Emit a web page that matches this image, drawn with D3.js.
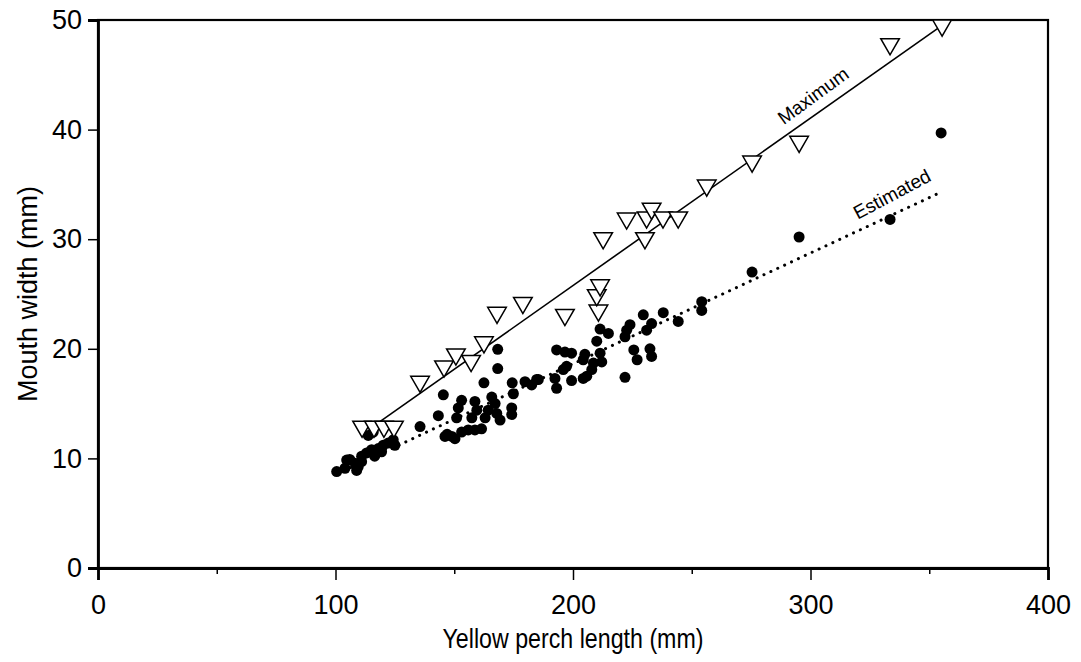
<!DOCTYPE html>
<html><head><meta charset="utf-8">
<script src="https://cdn.jsdelivr.net/npm/d3@7"></script>
<style>body{margin:0;background:#fff;} text{font-family:"Liberation Sans",Arial,sans-serif;fill:#000;}</style>
</head><body><svg id="c" width="1081" height="662"></svg>
<script>
// Data (mm)
const estLength = [100.5,104,104.7,108.2,108.9,109.5,111,111,113.1,115.2,113.8,115.9,118,119.4,120.1,122.2,124.3,125,116.5,106,
  135.6,
  143.3,145.4,146.1,149,150.3,151,151.7,153.1,153.1,155.9,157.4,158.7,158.7,159.5,161.5,162.5,163,164.3,165.8,167.2,167.9,168.3,168.3,169.3,174.2,174.2,174.4,174.9,179.8,182.6,185.4,147,
  184.7,192.4,193.1,193.1,195.9,196.6,197.3,199.4,199.4,204.3,204.3,205,205.8,207.9,208.6,210,211.4,211.4,212.1,214.9,221.9,221.9,222.6,224,225.6,227,229.6,231,232.4,233.1,233.1,238,244.3,254.2,254.2,
  275.4,295.2,333.5,355];
const estWidth = [8.8,9.1,9.85,9.55,8.9,9.2,10.2,9.7,10.5,10.8,12.1,12.4,10.9,10.6,11.2,11.4,11.7,11.2,10.2,9.9,
  12.9,
  13.9,15.8,12.0,12.0,11.8,13.7,14.6,15.3,12.4,12.6,13.7,15.2,12.6,14.4,12.7,16.9,13.7,14.4,15.6,15.0,14.1,19.95,18.2,13.5,14.6,14.0,16.9,15.9,17.0,16.7,17.2,12.2,
  17.2,17.3,16.4,19.9,18.1,19.7,18.4,19.6,17.1,19.0,17.3,19.5,17.5,18.1,18.7,20.7,19.6,21.8,18.8,21.4,21.1,17.4,21.7,22.2,19.9,19.0,23.1,21.7,20.0,19.3,22.3,23.3,22.5,24.3,23.5,
  27.0,30.2,31.8,39.7];
const maxLength = [111.2,116.2,120.4,124.6,135.6,145.7,150.7,157.1,162.5,168,178.9,196.6,210.7,210,211.4,212.7,230.3,222.6,231,233.1,237.9,244.3,256.3,275.4,295.2,333.5,355.4];
const maxWidth  = [12.9,12.9,12.9,12.9,17.0,18.4,19.5,18.9,20.6,23.3,24.2,23.1,23.5,24.9,25.8,30.1,30.1,31.9,32.0,32.8,32.0,32.0,34.9,37.1,38.9,47.8,49.5];
// regression line end points
const maxLineX = [118.7, 356.6], maxLineY = [13.35, 49.7];
const estLineX = [100.6, 354.0], estLineY = [8.58, 34.2];
const xTicks = [0,100,200,300,400], xMinor = [50,150,250,350];
const yTicks = [0,10,20,30,40,50];

const svg = d3.select("#c");
const m = {l:98, t:20, r:1048, b:568};
const x = d3.scaleLinear().domain([0,400]).range([m.l, m.r]);
const y = d3.scaleLinear().domain([0,50]).range([m.b, m.t]);
const FONT = "Liberation Sans, Arial, sans-serif";

// frame
svg.append("rect").attr("x",m.l).attr("y",m.t).attr("width",m.r-m.l).attr("height",m.b-m.t)
  .attr("fill","none").attr("stroke","#000").attr("stroke-width",2.2);

// axes
const xa = svg.append("g").attr("transform",`translate(0,${m.b})`)
  .call(d3.axisBottom(x).tickValues(xTicks).tickSize(12).tickPadding(15).tickFormat(d3.format("d")));
xa.select(".domain").attr("stroke-width",2.8);
xa.selectAll("text").attr("font-size",27).attr("font-family",FONT);
xa.selectAll("line").attr("stroke-width",1.5);
const xm = svg.append("g").attr("transform",`translate(0,${m.b})`)
  .call(d3.axisBottom(x).tickValues(xMinor).tickSize(6).tickFormat(""));
xm.select(".domain").remove();
xm.selectAll("line").attr("stroke-width",1.5);

const ya = svg.append("g").attr("transform",`translate(${m.l},0)`)
  .call(d3.axisLeft(y).tickValues(yTicks).tickSize(10).tickPadding(6).tickFormat(d3.format("d")));
ya.select(".domain").attr("stroke-width",2.8);
ya.selectAll("text").attr("font-size",27).attr("font-family",FONT);
ya.selectAll("line").attr("stroke-width",1.5);

svg.append("text").attr("transform",`translate(${(m.l+m.r)/2},648) scale(0.86,1)`).attr("text-anchor","middle")
  .attr("font-size",27).text("Yellow perch length (mm)");
svg.append("text").attr("transform",`translate(37,${(m.t+m.b)/2}) rotate(-90)`).attr("text-anchor","middle")
  .attr("font-size",27).text("Mouth width (mm)");

// lines
const line = d3.line().x(d=>x(d[0])).y(d=>y(d[1]));
svg.append("path").datum(d3.zip(maxLineX,maxLineY)).attr("d",line)
  .attr("fill","none").attr("stroke","#000").attr("stroke-width",1.6);
svg.append("path").datum(d3.zip(estLineX,estLineY)).attr("d",line)
  .attr("fill","none").attr("stroke","#000").attr("stroke-width",3)
  .attr("stroke-linecap","round").attr("stroke-dasharray","0.1,7.5");

// estimated points
svg.append("g").selectAll("circle").data(d3.zip(estLength,estWidth)).join("circle")
  .attr("cx",d=>x(d[0])).attr("cy",d=>y(d[1])).attr("r",5.5).attr("fill","#000");

// maximum points (down triangles)
const tri = d3.symbol().type(d3.symbolTriangle).size(150);
svg.append("g").selectAll("path").data(d3.zip(maxLength,maxWidth)).join("path")
  .attr("d",tri).attr("transform",d=>`translate(${x(d[0])},${y(d[1])}) rotate(180)`)
  .attr("fill","#fff").attr("stroke","#000").attr("stroke-width",1.5);

// labels along lines
svg.append("text").attr("transform",`translate(817,101) rotate(-36)`).attr("text-anchor","middle")
  .attr("font-size",19).text("Maximum");
svg.append("text").attr("transform",`translate(895,200) rotate(-28)`).attr("text-anchor","middle")
  .attr("font-size",19).text("Estimated");
</script></body></html>
